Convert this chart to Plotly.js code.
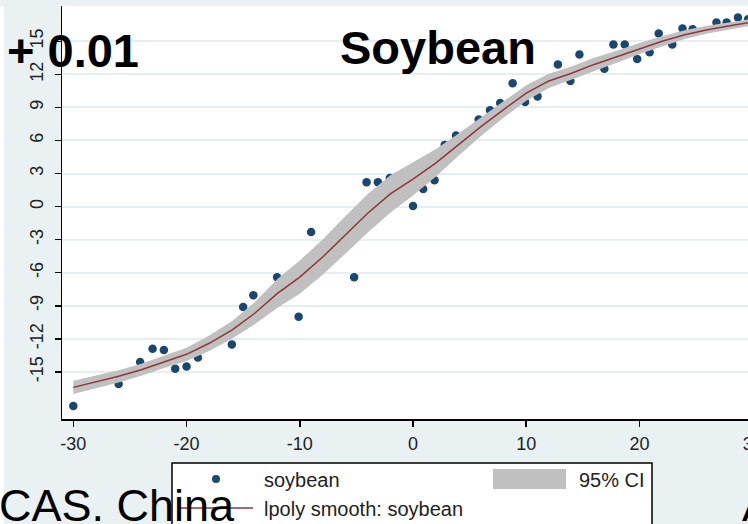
<!DOCTYPE html>
<html><head><meta charset="utf-8">
<script src="https://cdn.plot.ly/plotly-3.0.1.min.js"></script>
<style>html,body{margin:0;padding:0;overflow:hidden;background:#e9f1f3;width:748px;height:524px}#chart{width:770px;height:545px}</style>
</head><body><div id="chart"></div><script>
// ---- data ----
const pointsX = [-30.0,-26.0,-24.1,-23.0,-22.0,-21.0,-20.0,-19.0,-16.0,-15.0,-14.1,-12.0,-10.1,-9.0,-5.2,-4.1,-3.1,-2.05,0.0,0.9,1.9,2.8,3.8,5.8,6.8,7.7,8.8,9.9,11.0,12.8,13.9,14.7,16.9,17.7,18.7,19.8,20.9,21.7,22.9,23.8,24.7,26.8,27.7,28.7,29.6];
const pointsY = [-18.1,-16.1,-14.1,-12.9,-13.0,-14.7,-14.5,-13.7,-12.5,-9.1,-8.05,-6.4,-10.0,-2.3,-6.4,2.2,2.2,2.6,0.05,1.6,2.4,5.6,6.45,7.9,8.75,9.4,11.2,9.5,10.0,12.9,11.4,13.8,12.5,14.7,14.7,13.4,14.0,15.7,14.7,16.15,16.1,16.7,16.7,17.15,17.0];
const smoothX = [-30,-28,-26,-24,-22,-20,-18,-16,-14,-12,-10,-8,-6,-4,-2,0,2,4,6,8,10,12,14,16,18,20,22,24,26,28,30];
const smoothY = [-16.4,-15.9,-15.4,-14.8,-14.1,-13.4,-12.4,-11.2,-9.7,-7.9,-6.4,-4.6,-2.6,-0.6,1.15,2.5,3.95,5.6,7.25,8.8,10.3,11.4,12.1,12.9,13.6,14.35,15.0,15.6,16.05,16.4,16.75];
const ciLow  = [-17.0,-16.5,-15.95,-15.35,-14.65,-14.0,-13.1,-12.0,-10.7,-9.2,-7.9,-6.2,-4.3,-2.35,-0.55,1.0,2.7,4.6,6.4,8.05,9.6,10.75,11.5,12.3,13.05,13.85,14.55,15.2,15.7,16.1,16.45];
const ciHigh = [-15.8,-15.3,-14.85,-14.25,-13.55,-12.8,-11.7,-10.4,-8.7,-6.6,-4.9,-3.0,-0.9,1.15,2.85,4.0,5.2,6.6,8.1,9.55,11.0,12.05,12.7,13.5,14.15,14.85,15.45,16.0,16.4,16.7,17.05];
const xTickVals = [-30,-20,-10,0,10,20,30];
const xTickText = ['-30','-20','-10','0','10','20','30'];
const yTickVals = [-15,-12,-9,-6,-3,0,3,6,9,12,15];
const yTickText = ['-15','-12','-9','-6','-3','0','3','6','9','12','15'];
const legendLabels = ['soybean','95% CI','lpoly smooth: soybean'];

// ---- styling ----
const W=770, H=545, ML=62, MR=6, MT=6, MB=126;
const PW = W-ML-MR, PH = H-MT-MB;
const px = p => (p-ML)/PW;
const py = p => (H-MB-p)/PH;
const NAVY='#1a476f', MAROON='#90353b', CIGRAY='#c0c0c0', TXT='#222';
const FONT='Liberation Sans, Arial, sans-serif';

const traces = [
  {type:'scatter', mode:'markers', x:pointsX, y:pointsY, name:legendLabels[0],
   marker:{color:NAVY, size:8.5, symbol:'circle'}},
  {type:'scatter', mode:'lines', x:smoothX.concat(smoothX.slice().reverse()),
   y:ciHigh.concat(ciLow.slice().reverse()), fill:'toself', fillcolor:CIGRAY,
   line:{width:0, color:CIGRAY}, name:legendLabels[1], hoverinfo:'skip'},
  {type:'scatter', mode:'lines', x:smoothX, y:smoothY, name:legendLabels[2],
   line:{color:MAROON, width:1.5}}
];

const shapes = [
  {type:'rect', xref:'paper', yref:'paper', x0:px(0), x1:px(4), y0:py(6), y1:py(H), fillcolor:'#ffffff', line:{width:0}, layer:'above'},
  {type:'rect', xref:'paper', yref:'paper', x0:px(172), x1:px(652), y0:py(463), y1:py(541), fillcolor:'#ffffff', line:{color:'#000', width:1.5}, layer:'above'},
  {type:'rect', xref:'paper', yref:'paper', x0:px(493), x1:px(566), y0:py(469), y1:py(489), fillcolor:CIGRAY, line:{width:0}, layer:'above'},
  {type:'line', xref:'paper', yref:'paper', x0:px(178), x1:px(253), y0:py(508), y1:py(508), line:{color:MAROON, width:1.5}, layer:'above'},
  {type:'circle', xref:'paper', yref:'paper', x0:px(212), x1:px(220), y0:py(475), y1:py(483), fillcolor:NAVY, line:{width:0}, layer:'above'}
];

const ann = (text, x, y, size, opts) => Object.assign({text, xref:'paper', yref:'paper', x:px(x), y:py(y),
  showarrow:false, xanchor:'left', yanchor:'middle', font:{family:FONT, size, color:TXT}}, opts||{});

const annotations = [
  ann(legendLabels[0], 262, 480, 20),
  ann(legendLabels[1], 577, 480, 20),
  ann(legendLabels[2], 262, 509, 20),
  ann('Soybean', 438, 47, 47, {xanchor:'center', font:{family:FONT, size:47, color:'#000', weight:'bold'}}),
  ann('+ 0.01', 5, 50, 47, {font:{family:FONT, size:47, color:'#000', weight:'bold'}}),
  ann('CAS. China', -3, 505, 45, {font:{family:FONT, size:45, color:'#000'}}),
  ann('A', 740, 505, 45, {font:{family:FONT, size:45, color:'#000'}})
];

const layout = {
  width:W, height:H, margin:{l:ML, r:MR, t:MT, b:MB, pad:0},
  paper_bgcolor:'#e9f1f3', plot_bgcolor:'#ffffff', showlegend:false,
  font:{family:FONT, color:TXT},
  xaxis:{range:[-31,31], tickmode:'array', tickvals:xTickVals, ticktext:xTickText,
    ticks:'outside', ticklen:6, tickwidth:1.5, tickcolor:'#000', showline:true, linecolor:'#000', linewidth:1.5,
    showgrid:false, zeroline:false, tickfont:{size:18, color:TXT}, ticklabelstandoff:2},
  yaxis:{range:[-19.27,18.2], tickmode:'array', tickvals:yTickVals, ticktext:yTickText, tickangle:-90,
    ticks:'outside', ticklen:6, tickwidth:1.5, tickcolor:'#000', showline:true, linecolor:'#000', linewidth:1.5,
    showgrid:true, gridcolor:'#e6eef1', gridwidth:2, zeroline:false, tickfont:{size:18, color:TXT}, ticklabelstandoff:4},
  shapes, annotations
};
Plotly.newPlot('chart', traces, layout, {staticPlot:true, displayModeBar:false});
</script></body></html>
